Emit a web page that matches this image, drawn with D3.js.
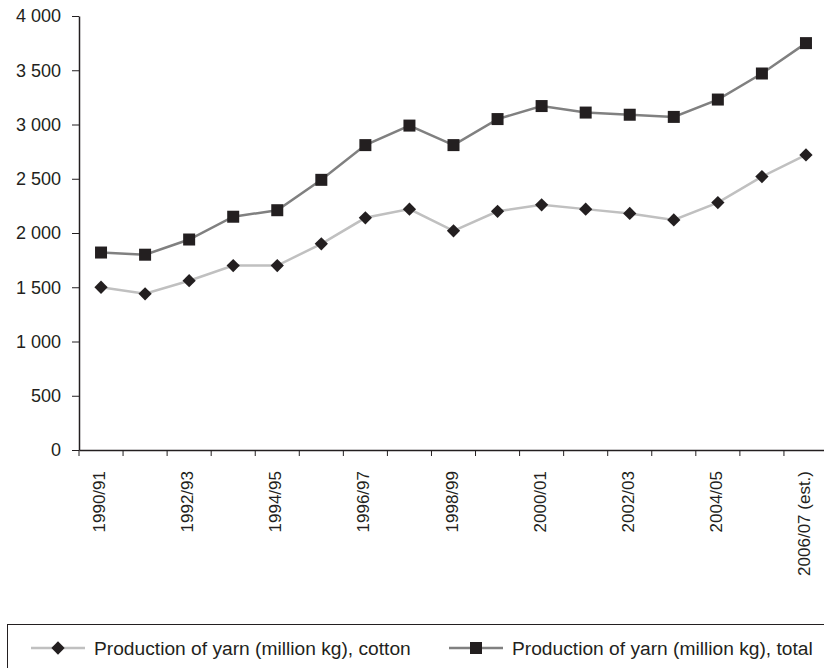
<!DOCTYPE html>
<html>
<head>
<meta charset="utf-8">
<script src="https://cdn.jsdelivr.net/npm/d3@7"></script>
<style>
  body { margin: 0; background: #fff; }
  text { font-family: "Liberation Sans", Arial, sans-serif; fill: #231f20; }
</style>
</head>
<body>
<div id="chart"></div>
<script>
const width = 824,
    height = 668;

// Dados
const years = ["1990/91", "1991/92", "1992/93", "1993/94", "1994/95", "1995/96", "1996/97", "1997/98",
    "1998/99", "1999/00", "2000/01", "2001/02", "2002/03", "2003/04", "2004/05", "2005/06", "2006/07 (est.)"];
const cotton = [1500, 1440, 1560, 1700, 1700, 1900, 2140, 2220, 2020, 2200, 2260, 2220, 2180, 2120, 2280, 2520, 2720];
const total = [1820, 1800, 1940, 2150, 2210, 2490, 2810, 2990, 2810, 3050, 3170, 3110, 3090, 3070, 3230, 3470, 3750];
const yTicks = [0, 500, 1000, 1500, 2000, 2500, 3000, 3500, 4000];
const seriesNames = ["Production of yarn (million kg), cotton", "Production of yarn (million kg), total"];

const ink = "#231f20";

const svg = d3.select("#chart")
    .append("svg")
    .attr("width", width)
    .attr("height", height);

// Escalas
const x = d3.scaleBand()
    .domain(years)
    .range([79, 828]);

const y = d3.scaleLinear()
    .domain([0, 4000])
    .range([450, 16]);

const fmt = d3.formatLocale({ decimal: ",", thousands: "\u00a0", grouping: [3], currency: ["", ""] }).format(",");

// Eixo Y
const yAxis = svg.append("g")
    .attr("transform", "translate(79,0)")
    .call(d3.axisLeft(y).tickValues(yTicks).tickFormat(fmt).tickSize(7).tickPadding(11).tickSizeOuter(0));
yAxis.selectAll("text").style("font-size", "18px");

// Eixo X (linha apenas, marcas entre categorias)
const xAxis = svg.append("g")
    .attr("transform", "translate(0,450)")
    .call(d3.axisBottom(x).tickValues([]).tickSizeOuter(0));

xAxis.selectAll(".sep")
    .data(years.map(d => x(d)).concat([x.range()[1]]))
    .enter()
    .append("line")
    .attr("x1", d => d)
    .attr("x2", d => d)
    .attr("y1", 0)
    .attr("y2", 6)
    .attr("stroke", ink);

xAxis.selectAll(".lbl")
    .data(years.filter((d, i) => i % 2 === 0))
    .enter()
    .append("text")
    .attr("transform", d => `translate(${x(d) + x.bandwidth() / 2 + 4},21) rotate(-90)`)
    .attr("text-anchor", "end")
    .style("font-size", "17px")
    .text(d => d);

svg.selectAll(".domain").attr("stroke", ink).attr("stroke-width", 1.5);
svg.selectAll(".tick line").attr("stroke", ink);

const cx = (d, i) => x(years[i]) + x.bandwidth() / 2;

const line = d3.line()
    .x((d, i) => cx(d, i))
    .y(d => y(d));

// Linhas
svg.append("path")
    .datum(cotton)
    .attr("d", line)
    .attr("fill", "none")
    .attr("stroke", "#c0c0c0")
    .attr("stroke-width", 2.5);

svg.append("path")
    .datum(total)
    .attr("d", line)
    .attr("fill", "none")
    .attr("stroke", "#808080")
    .attr("stroke-width", 2.5);

const diamond = d3.symbol().type(d3.symbolSquare).size(88);

// Marcadores
svg.selectAll(".dia")
    .data(cotton)
    .enter()
    .append("path")
    .attr("d", diamond)
    .attr("transform", (d, i) => `translate(${cx(d, i)},${y(d)}) rotate(45)`)
    .attr("fill", ink);

svg.selectAll(".sq")
    .data(total)
    .enter()
    .append("rect")
    .attr("x", (d, i) => cx(d, i) - 6)
    .attr("y", d => y(d) - 6)
    .attr("width", 12)
    .attr("height", 12)
    .attr("fill", ink);

// Legenda
const legend = svg.append("g");
legend.append("rect")
    .attr("x", 7.5)
    .attr("y", 624.5)
    .attr("width", 830)
    .attr("height", 60)
    .attr("fill", "none")
    .attr("stroke", ink)
    .attr("stroke-width", 1);

const items = [
    { name: seriesNames[0], x0: 31, color: "#c0c0c0", mark: "dia" },
    { name: seriesNames[1], x0: 449, color: "#808080", mark: "sq" }
];

items.forEach(it => {
    const g = legend.append("g").attr("transform", `translate(${it.x0},648)`);
    g.append("line")
        .attr("x1", 0).attr("x2", 54)
        .attr("stroke", it.color)
        .attr("stroke-width", 2.5);
    if (it.mark === "dia") {
        g.append("path")
            .attr("d", diamond)
            .attr("transform", "translate(27,0) rotate(45)")
            .attr("fill", ink);
    } else {
        g.append("rect")
            .attr("x", 21).attr("y", -6)
            .attr("width", 12).attr("height", 12)
            .attr("fill", ink);
    }
    g.append("text")
        .attr("x", 63)
        .attr("dy", "0.35em")
        .style("font-size", "19.2px")
        .text(it.name);
});
</script>
</body>
</html>
